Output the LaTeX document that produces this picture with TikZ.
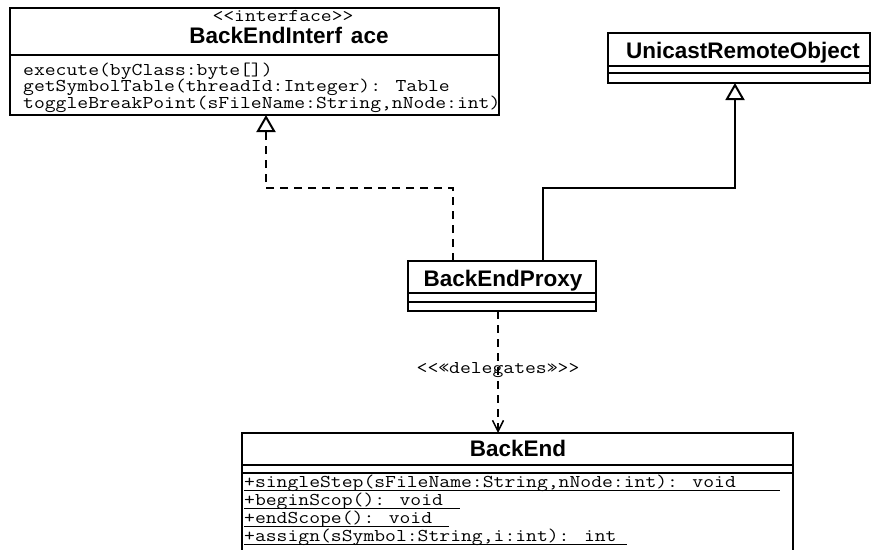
\documentclass[tikz,border=0pt]{standalone}
\usepackage{fontspec}
\setmainfont{Liberation Sans}
\newfontfamily\monof{Latin Modern Mono}[FakeStretch=1.17]
\usetikzlibrary{arrows.meta,calc}
\begin{document}
\begin{tikzpicture}[x=1pt,y=-1pt,
  classbox/.style={draw, line width=2pt, rectangle, inner sep=0pt, outer sep=0pt, fill=white},
  sepline/.style={line width=2pt},
  titletxt/.style={font=\fontsize{22.5}{22.5}\selectfont\bfseries, inner sep=0pt, anchor=base},
  monotxt/.style={font=\monof\fontsize{18}{18}\selectfont, inner sep=0pt, anchor=base west},
  monoc/.style={font=\monof\fontsize{18}{18}\selectfont, inner sep=0pt, anchor=base},
  uline/.style={line width=1pt},
  conn/.style={line width=2pt},
  dashline/.style={dash pattern=on 8pt off 6pt},
  realtip/.style={-{Triangle[length=17pt,width=19pt,fill=white,line width=2pt]}},
  deptip/.style={-{Straight Barb[length=11pt,width=11pt,line width=1.5pt]}}]
\clip (0,0) rectangle (872,549);
\useasboundingbox (0,0) rectangle (872,549);
\fill[white] (0,0) rectangle (872,549);

% class boxes
\node[classbox, minimum width=489pt, minimum height=107pt] (iface) at (254.5,61.5) {};
\node[classbox, minimum width=262pt, minimum height=50pt] (uro) at (739,58) {};
\node[classbox, minimum width=188pt, minimum height=50pt] (proxy) at (502,286) {};
\node[classbox, minimum width=551pt, minimum height=140pt] (backend) at (517.5,503) {};

% separators
\draw[sepline] ($(iface.north west)+(0,47)$) -- ($(iface.north east)+(0,47)$);
\draw[sepline] ($(uro.north west)+(0,33)$) -- ($(uro.north east)+(0,33)$);
\draw[sepline] ($(uro.north west)+(0,40)$) -- ($(uro.north east)+(0,40)$);
\draw[sepline] ($(proxy.north west)+(0,32)$) -- ($(proxy.north east)+(0,32)$);
\draw[sepline] ($(proxy.north west)+(0,41)$) -- ($(proxy.north east)+(0,41)$);
\draw[sepline] ($(backend.north west)+(0,32)$) -- ($(backend.north east)+(0,32)$);
\draw[sepline] ($(backend.north west)+(0,40)$) -- ($(backend.north east)+(0,40)$);

% interface texts
\node[monoc] (ster) at (283,21) {<<interface>>};
\node[titletxt] (ifacet) at (289,43) {BackEndInterf\hspace{9pt}ace};
\node[monotxt] (m1) at (23,75) {execute(byClass:byte[])};
\node[monotxt] (m2) at (23,91.5) {getSymbolTable(threadId:Integer): Table};
\node[monotxt] (m3) at (23,108) {toggleBreakPoint(sFileName:String,nNode:int)};

% other titles
\node[titletxt] (urot) at (743,58) {UnicastRemoteObject};
\node[titletxt] (proxyt) at (503,286) {BackEndProxy};
\node[titletxt] (backendt) at (518,456) {BackEnd};

% backend methods
\node[monotxt] (b1) at (244,487) {+singleStep(sFileName:String,nNode:int): void};
\node[monotxt] (b2) at (244,505) {+beginScop(): void};
\node[monotxt] (b3) at (244,523) {+endScope(): void};
\node[monotxt] (b4) at (244,541) {+assign(sSymbol:String,i:int): int};
\draw[uline] ($(b1.base west)+(0,3)$) -- ++(536,0);
\draw[uline] ($(b2.base west)+(0,3)$) -- ++(216,0);
\draw[uline] ($(b3.base west)+(0,3)$) -- ++(205,0);
\draw[uline] ($(b4.base west)+(0,3)$) -- ++(383,0);

% connectors
\coordinate (p1) at ($(proxy.north west)+(45,0)$);
\coordinate (i1) at ($(iface.south west)+(256,0)$);
\draw[conn, dashline, realtip] (p1) -- ++(0,-73) -| (i1);

\coordinate (p2) at ($(proxy.north west)+(135,0)$);
\coordinate (u1) at ($(uro.south west)+(127,0)$);
\draw[conn, realtip] (p2) -- ++(0,-73) -| (u1);

\coordinate (p3) at ($(proxy.south west)+(90,0)$);
\draw[conn, dashline, deptip] (p3) -- (p3 |- backend.north);
\node[monoc] (deplabel) at (498,373) {<<«delegates»>>};
\end{tikzpicture}
\end{document}
